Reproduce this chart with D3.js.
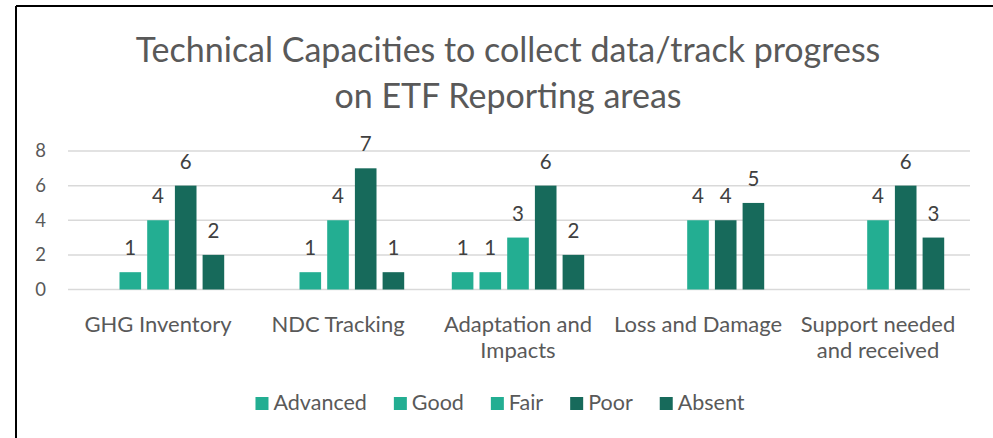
<!DOCTYPE html>
<html>
<head>
<meta charset="utf-8">
<script src="https://cdn.jsdelivr.net/npm/d3@7"></script>
<style>
  body { margin: 0; background: #fff; }
  svg { display: block; font-family: Lato, "Open Sans", sans-serif; }
</style>
</head>
<body>
<div id="chart"></div>
<script>
// Chart data
var categories = ["GHG Inventory", "NDC Tracking", "Adaptation and Impacts", "Loss and Damage", "Support needed and received"];
var seriesNames = ["Advanced", "Good", "Fair", "Poor", "Absent"];
var advanced = [null, null, 1, null, null];
var good = [1, 1, 1, null, null];
var fair = [4, 4, 3, 4, 4];
var poor = [6, 7, 6, 4, 6];
var absent = [2, 1, 2, 5, 3];
var yTicks = [0, 2, 4, 6, 8];
var titleLines = ["Technical Capacities to collect data/track progress", "on ETF Reporting areas"];

var seriesValues = [advanced, good, fair, poor, absent];
var lightColor = "#23ae92";
var darkColor = "#176a5b";
var colors = [lightColor, lightColor, lightColor, darkColor, darkColor];

var svgWidth = 993;
var svgHeight = 438;

var svg = d3.select("#chart")
  .append("svg")
  .attr("width", svgWidth)
  .attr("height", svgHeight);

// frame (top and left edges only are visible)
svg.append("line")
  .attr("x1", 16).attr("x2", svgWidth).attr("y1", 6).attr("y2", 6)
  .attr("stroke", "#000").attr("stroke-width", 2);
svg.append("line")
  .attr("x1", 16).attr("x2", 16).attr("y1", 6).attr("y2", svgHeight)
  .attr("stroke", "#000").attr("stroke-width", 2);

// title
svg.append("text")
  .attr("text-anchor", "middle")
  .attr("fill", "#595959")
  .style("font-size", "34px")
  .selectAll("tspan")
  .data(titleLines)
  .enter()
  .append("tspan")
  .attr("x", 508)
  .attr("y", (d, i) => 62 + i * 46)
  .text(d => d);

// scales
var x0 = d3.scaleBand()
  .domain(categories)
  .range([68, 968]);

var x1 = d3.scaleBand()
  .domain(seriesNames)
  .range([-69.25, 69.25])
  .paddingInner(0.22)
  .paddingOuter(0.11);

var y = d3.scaleLinear()
  .domain([0, 8])
  .range([289.5, 151]);

// gridlines
svg.append("g")
  .selectAll("line")
  .data(yTicks)
  .enter()
  .append("line")
  .attr("x1", 68)
  .attr("x2", 970)
  .attr("y1", d => y(d))
  .attr("y2", d => y(d))
  .attr("stroke", "#d9d9d9")
  .attr("stroke-width", 1.5);

// y axis labels
var leftAxis = d3.axisLeft(y).tickValues(yTicks).tickSize(0).tickPadding(0);
var yAxis = svg.append("g")
  .attr("transform", "translate(46,0)")
  .call(leftAxis);
yAxis.select(".domain").remove();
yAxis.selectAll("text")
  .attr("fill", "#595959")
  .style("font-family", "Lato, sans-serif")
  .style("font-size", "18.5px");

// bars
var rows = [];
categories.forEach(function(c, ci) {
  seriesNames.forEach(function(s, si) {
    var v = seriesValues[si][ci];
    if (v != null) rows.push({ cat: c, series: s, value: v, color: colors[si] });
  });
});

var barGroup = svg.append("g");
barGroup.selectAll("rect")
  .data(rows)
  .enter()
  .append("rect")
  .attr("x", d => x0(d.cat) + x0.bandwidth() / 2 + x1(d.series))
  .attr("y", d => y(d.value))
  .attr("width", x1.bandwidth())
  .attr("height", d => y(0) - y(d.value))
  .attr("fill", d => d.color);

// data labels
barGroup.selectAll("text")
  .data(rows)
  .enter()
  .append("text")
  .attr("x", d => x0(d.cat) + x0.bandwidth() / 2 + x1(d.series) + x1.bandwidth() / 2)
  .attr("y", d => y(d.value) - 17)
  .attr("text-anchor", "middle")
  .attr("fill", "#404040")
  .style("font-size", "20.5px")
  .text(d => d.value);

// category labels, wrapped to the band width
var catGroup = svg.append("g");
categories.forEach(function(c) {
  var t = catGroup.append("text")
    .attr("text-anchor", "middle")
    .attr("fill", "#595959")
    .style("font-size", "22px");
  var cx = x0(c) + x0.bandwidth() / 2;
  var words = c.split(" ");
  var line = [];
  var lineNo = 0;
  var tspan = t.append("tspan").attr("x", cx).attr("y", 332);
  words.forEach(function(w) {
    line.push(w);
    tspan.text(line.join(" "));
    if (tspan.node().getComputedTextLength() > 172 && line.length > 1) {
      line.pop();
      tspan.text(line.join(" "));
      line = [w];
      lineNo++;
      tspan = t.append("tspan").attr("x", cx).attr("y", 332 + lineNo * 26).text(w);
    }
  });
});

// legend, centered
var legend = svg.append("g");
var lx = 0;
seriesNames.forEach(function(s, i) {
  var item = legend.append("g").attr("transform", `translate(${lx},0)`);
  item.append("rect")
    .attr("x", 0).attr("y", 397)
    .attr("width", 13).attr("height", 13)
    .attr("fill", colors[i]);
  var txt = item.append("text")
    .attr("x", 18).attr("y", 410)
    .attr("fill", "#595959")
    .style("font-size", "21.5px")
    .text(s);
  lx += 18 + txt.node().getComputedTextLength() + 27;
});
var legendWidth = lx - 27;
legend.attr("transform", `translate(${500 - legendWidth / 2},0)`);
</script>
</body>
</html>
